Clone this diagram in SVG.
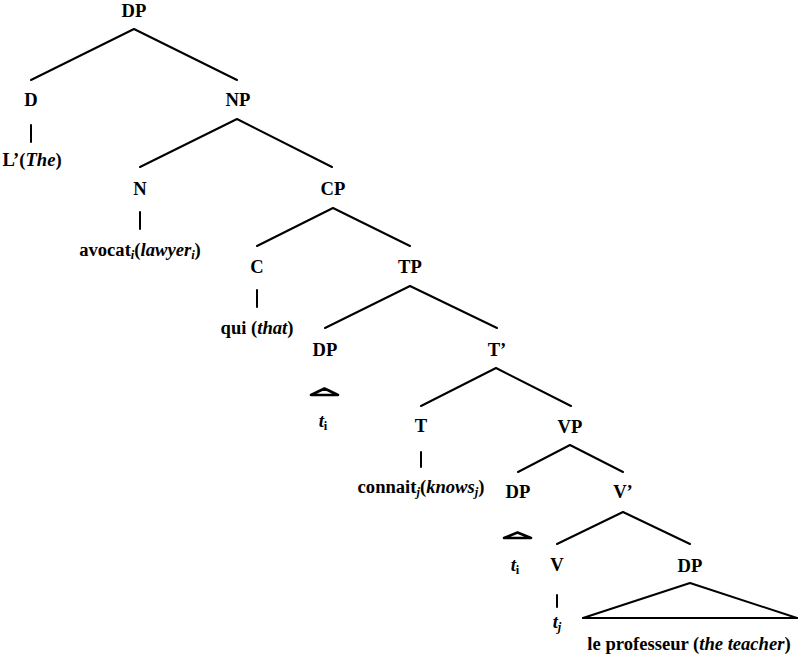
<svg xmlns="http://www.w3.org/2000/svg" width="800" height="658" viewBox="0 0 800 658">
<style>
text{font-family:"Liberation Serif","Times New Roman",serif;font-weight:bold;font-size:18.6px;fill:#000;text-anchor:middle}
.i{font-style:italic}
.sub{font-size:12.5px}
line,polyline,polygon{stroke:#000;stroke-width:2;fill:none;stroke-linecap:round;stroke-linejoin:round}
.tri{stroke-width:2.6}
</style>
<rect width="800" height="658" fill="#fff"/>
<g id="connectors">
<polyline points="31,80 134,29 237,80"/>
<line x1="31" y1="125" x2="31" y2="142"/>
<polyline points="140,167 237,119 332,167"/>
<line x1="140" y1="212" x2="140" y2="229"/>
<polyline points="257,246 333,208 410,246"/>
<line x1="257" y1="290" x2="257" y2="307"/>
<polyline points="325,328 410,286 497,328"/>
<polyline points="421,406 496,368 571,406"/>
<line x1="421" y1="452" x2="421" y2="467"/>
<polyline points="518,472 570,445 623,472"/>
<polyline points="557,544 623,512 690,544"/>
<line x1="557" y1="595" x2="557" y2="607"/>
</g>
<g id="n-dp-root"><text x="134" y="17">DP</text></g>
<g id="n-d"><text x="31" y="106">D</text></g>
<g id="n-the"><text x="32" y="166">L’(<tspan class="i">The</tspan>)</text></g>
<g id="n-np"><text x="238" y="106">NP</text></g>
<g id="n-n"><text x="140" y="195">N</text></g>
<g id="n-avocat"><text x="140" y="256">avocat<tspan class="sub i" dy="3">i</tspan><tspan dy="-3">(</tspan><tspan class="i">lawyer</tspan><tspan class="sub i" dy="3">i</tspan><tspan dy="-3">)</tspan></text></g>
<g id="n-cp"><text x="333" y="195">CP</text></g>
<g id="n-c"><text x="257" y="273">C</text></g>
<g id="n-qui"><text x="257" y="334">qui (<tspan class="i">that</tspan>)</text></g>
<g id="n-tp"><text x="410" y="273">TP</text></g>
<g id="n-dp-spec-tp"><text x="325" y="356">DP</text><polygon class="tri" points="311,395 324.5,388.5 338,395"/><text x="323" y="427"><tspan class="i">t</tspan><tspan class="sub" dy="3">i</tspan></text></g>
<g id="n-tbar"><text x="497" y="356">T’</text></g>
<g id="n-t"><text x="421" y="432">T</text></g>
<g id="n-connait"><text x="421" y="493">connait<tspan class="sub i" dy="3">j</tspan><tspan dy="-3">(</tspan><tspan class="i">knows</tspan><tspan class="sub i" dy="3">j</tspan><tspan dy="-3">)</tspan></text></g>
<g id="n-vp"><text x="570" y="433">VP</text></g>
<g id="n-dp-spec-vp"><text x="518" y="498">DP</text><polygon class="tri" points="504,538 517.5,532.5 531,538"/><text x="515" y="571"><tspan class="i">t</tspan><tspan class="sub" dy="3">i</tspan></text></g>
<g id="n-vbar"><text x="623" y="498">V’</text></g>
<g id="n-v"><text x="557" y="571">V</text><text x="557" y="628"><tspan class="i">t</tspan><tspan class="sub i" dy="3">j</tspan></text></g>
<g id="n-dp-obj"><text x="690" y="572">DP</text><polygon points="583,618 690,583 797,618"/><line x1="583" y1="618" x2="797" y2="618" stroke-width="3"/><text x="689" y="650">le professeur (<tspan class="i">the teacher</tspan>)</text></g>
</svg>
